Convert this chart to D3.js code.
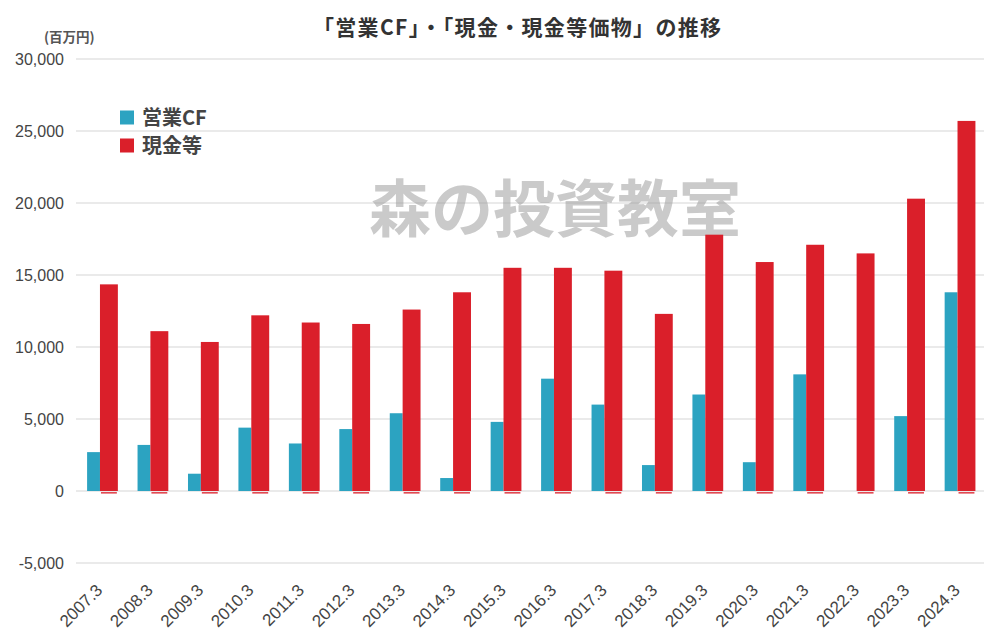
<!DOCTYPE html>
<html><head><meta charset="utf-8">
<script src="https://cdn.jsdelivr.net/npm/d3@7"></script>
<style>
html,body{margin:0;padding:0;background:#fff;}
svg{display:block;}
</style></head>
<body>
<svg id="chart" width="1007" height="642"></svg>
<script>
const categories = ["2007.3","2008.3","2009.3","2010.3","2011.3","2012.3","2013.3","2014.3","2015.3","2016.3","2017.3","2018.3","2019.3","2020.3","2021.3","2022.3","2023.3","2024.3"];
const operatingCF = [2700,3200,1200,4400,3300,4300,5400,900,4800,7800,6000,1800,6700,2000,8100,0,5200,13800];
const cashEq = [14350,11100,10350,12200,11700,11600,12600,13800,15500,15500,15300,12300,17800,15900,17100,16500,20300,25700];
const yTicks = [-5000,0,5000,10000,15000,20000,25000,30000];
const seriesNames = ["営業CF","現金等"];
const colors = ["#2ca3c1","#da1f2a"];
const titleText = "「営業CF」・「現金・現金等価物」の推移";
const unitText = "(百万円)";
const watermark = "森の投資教室";

const svg = d3.select("#chart");
const plotL = 76, plotR = 984, plotT = 59, plotB = 563;
const x = d3.scaleBand().domain(categories).range([plotL, plotR]).padding(0);
const y = d3.scaleLinear().domain([-5000, 30000]).range([plotB, plotT]);
const bw = x.bandwidth();
const sansJP = "'Noto Sans CJK JP','Noto Sans',sans-serif";
const sansNum = "'Liberation Sans',Arial,sans-serif";

// gridlines
svg.append("g").selectAll("line").data(yTicks).join("line")
  .attr("x1", plotL).attr("x2", plotR)
  .attr("y1", d => y(d)).attr("y2", d => y(d))
  .attr("stroke", "#d6d6d6").attr("stroke-width", 1.2);

// y axis labels
const yAxis = d3.axisLeft(y).tickValues(yTicks).tickSize(0).tickPadding(0)
  .tickFormat(d => d3.format(",")(d).replace("−", "-"));
const ya = svg.append("g").attr("transform", `translate(64,0)`).call(yAxis);
ya.select(".domain").remove();
ya.selectAll("text").attr("font-family", sansNum).attr("font-size", 16).attr("fill", "#444").attr("dy", "0.35em");

// watermark
svg.append("text").attr("x", 555).attr("y", 232).attr("text-anchor", "middle")
  .attr("font-family", sansJP).attr("font-weight", 700).attr("font-size", 62)
  .attr("fill", "#999").attr("fill-opacity", 0.52).text(watermark);

// bars
const g = svg.append("g");
g.selectAll("rect.cf").data(categories).join("rect").attr("class", "cf")
  .attr("x", d => x(d) + bw * 0.22).attr("width", bw * 0.255)
  .attr("y", (d, i) => y(Math.max(0, operatingCF[i])))
  .attr("height", (d, i) => Math.abs(y(operatingCF[i]) - y(0)))
  .attr("fill", colors[0]);
g.selectAll("rect.cash").data(categories).join("rect").attr("class", "cash")
  .attr("x", d => x(d) + bw * 0.475).attr("width", bw * 0.355)
  .attr("y", (d, i) => y(Math.max(0, cashEq[i])))
  .attr("height", (d, i) => Math.abs(y(cashEq[i]) - y(0)))
  .attr("fill", colors[1]);
// thin red trace below the zero line
g.selectAll("rect.trace").data(categories).join("rect").attr("class", "trace")
  .attr("x", d => x(d) + bw * 0.475 + 1).attr("width", bw * 0.355 - 2)
  .attr("y", y(0) + 1.2).attr("height", 1.3)
  .attr("fill", colors[1]);

// x labels
svg.append("g").selectAll("text").data(categories).join("text")
  .attr("transform", d => `translate(${x(d) + bw / 2 - 2},${587}) rotate(-45)`)
  .attr("text-anchor", "end").attr("dy", "0.35em")
  .attr("font-family", sansNum).attr("font-size", 17).attr("fill", "#444")
  .text(d => d);

// title
svg.append("text").attr("x", 517).attr("y", 35).attr("text-anchor", "middle")
  .attr("font-family", sansJP).attr("font-weight", 700).attr("font-size", 21)
  .attr("textLength", 408).attr("lengthAdjust", "spacing")
  .attr("fill", "#333").text(titleText);

// unit
svg.append("text").attr("x", 44).attr("y", 42)
  .attr("font-family", sansJP).attr("font-weight", 700).attr("font-size", 13.5)
  .attr("fill", "#555").text(unitText);

// legend
const leg = svg.append("g");
seriesNames.forEach((n, i) => {
  const yy = 110.5 + i * 28;
  leg.append("rect").attr("x", 120).attr("y", yy).attr("width", 14).attr("height", 14).attr("fill", colors[i]);
  leg.append("text").attr("x", 142).attr("y", yy + 7).attr("dy", "0.36em")
    .attr("font-family", sansJP).attr("font-weight", 700).attr("font-size", 20)
    .attr("fill", "#444").text(n);
});
</script>
</body></html>
